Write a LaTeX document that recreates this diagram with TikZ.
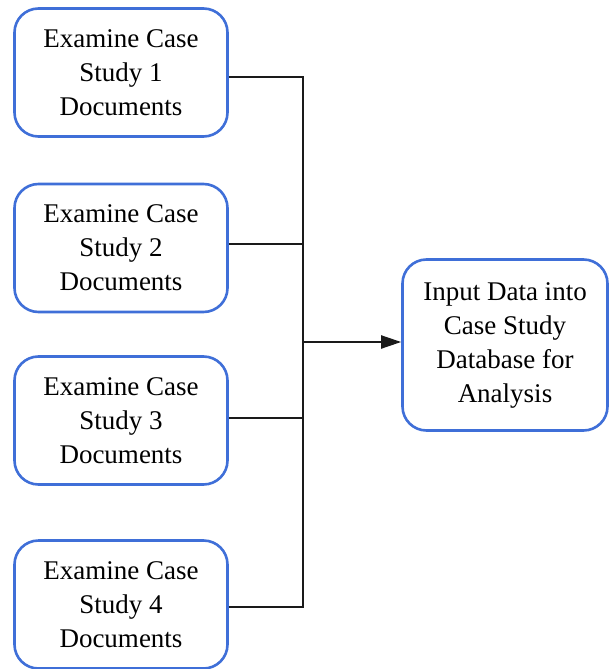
\documentclass[tikz,border=0pt]{standalone}
\usepackage{fontspec}
\setmainfont{Liberation Serif}
\usetikzlibrary{arrows.meta}
\definecolor{boxblue}{HTML}{3F6FD8}
\definecolor{linegray}{HTML}{1A1A1A}
\begin{document}
\begin{tikzpicture}[x=1pt,y=-1pt,
  box/.style={draw=boxblue, line width=2.6pt, rounded corners=24pt, fill=white,
    align=center, inner sep=0pt, text=black,
    font=\fontsize{27}{34}\selectfont},
  leftbox/.style={box, minimum width=213, minimum height=128},
  conn/.style={draw=linegray, line width=2pt},
  arr/.style={conn, -{Triangle[length=20pt,width=13pt]}}]
\useasboundingbox (0,0) rectangle (610,669);
\node[leftbox] (b1) at (121,72.5) {Examine Case\\Study 1\\Documents};
\node[leftbox] (b2) at (121,248) {Examine Case\\Study 2\\Documents};
\node[leftbox] (b3) at (121,420.5) {Examine Case\\Study 3\\Documents};
\node[leftbox] (b4) at (121,604.5) {Examine Case\\Study 4\\Documents};
\node[box, minimum width=205, minimum height=171] (out) at (505,345)
  {Input Data into\\Case Study\\Database for\\Analysis};
\coordinate (j) at (303,342);
\draw[conn] ([yshift=-4.5pt]b1.east) -| (j);
\draw[conn] ([yshift=4pt]b2.east) -| (j);
\draw[conn] ([yshift=3pt]b3.east) -| (j);
\draw[conn] ([yshift=-2pt]b4.east) -| (j);
\draw[arr] (j) -- (j -| out.west);
\end{tikzpicture}
\end{document}
